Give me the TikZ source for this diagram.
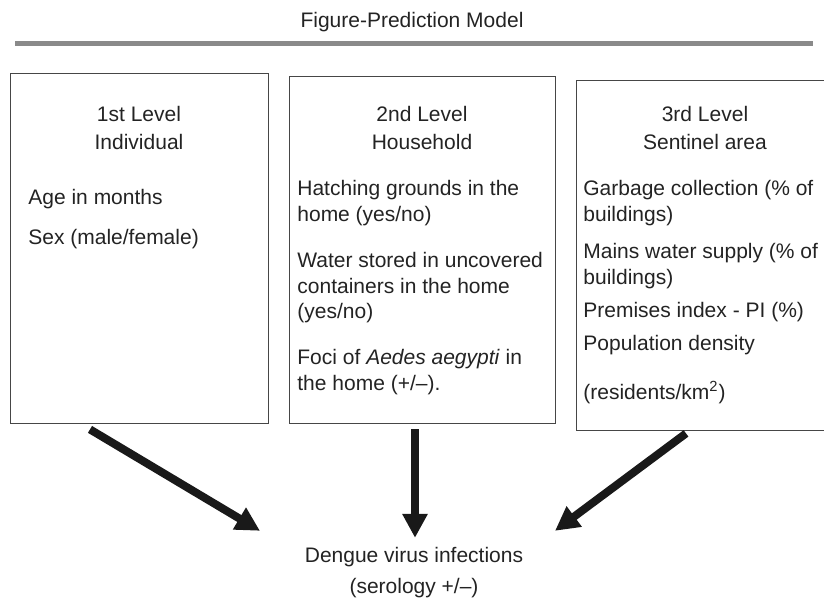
\documentclass[tikz,border=0pt]{standalone}
\usepackage{fontspec}
\setmainfont{Liberation Sans}
\usetikzlibrary{arrows.meta,calc,positioning}
\definecolor{rulegray}{RGB}{138,138,138}
\definecolor{boxgray}{RGB}{70,70,70}
\definecolor{inkgray}{RGB}{35,35,35}

\begin{document}
\begin{tikzpicture}[x=0.5pt,y=-0.5pt,
  every node/.style={inner sep=0pt,text=inkgray,font=\fontsize{10.5}{12.75}\selectfont},
  lvlbox/.style={draw=boxgray,line width=0.7pt,anchor=north west},
  item/.style={anchor=north west,align=left},
  head/.style={anchor=north,align=center,font=\fontsize{10.5}{14}\selectfont},
  bigarrow/.style={line width=4pt,draw=black!90,-{Triangle[length=12pt,width=12pt]}}]
  \useasboundingbox (0,0) rectangle (824,598);
  \clip (0,0) rectangle (824,598);
  % title and rule
  \node (title) at (412,22) {Figure-Prediction Model};
  \fill[rulegray] (15,41) rectangle (813,46);
  % the three level boxes
  \node[lvlbox,minimum width=129pt,minimum height=175pt] (box1) at (10,73) {};
  \node[lvlbox,minimum width=133pt,minimum height=173.5pt] (box2) at (289,76) {};
  \node[lvlbox,minimum width=132pt,minimum height=175pt] (box3) at (576,80) {};
  % headings
  \node[head] (head1) at (139,106) {1st Level\\Individual};
  \node[head] (head2) at (422,106) {2nd Level\\Household};
  \node[head] (head3) at (705,106) {3rd Level\\Sentinel area};
  % level 1
  \node[item] (age) at (28,189) {Age in months};
  \node[item] (sex) at (28,229) {Sex (male/female)};
  % level 2
  \node[item] (hatch) at (297,180) {Hatching grounds in the\\home (yes/no)};
  \node[item] (water) at (297,252) {Water stored in uncovered\\containers in the home\\(yes/no)};
  \node[item] (foci) at (297,349) {Foci of \textit{Aedes aegypti} in\\the home (+/--).};
  % level 3
  \node[item] (garb) at (583,180) {Garbage collection (\% of\\buildings)};
  \node[item] (mains) at (583,243) {Mains water supply (\% of\\buildings)};
  \node[item] (prem) at (583,302) {Premises index - PI (\%)};
  \node[item] (pop) at (583,335) {Population density};
  \node[item] (res) at (583,381) {(residents/km\textsuperscript{2})};
  % outcome
  \node (dengue) at (414,557) {Dengue virus infections};
  \node (sero) at (414,588) {(serology +/--)};
  % arrows
  \coordinate (s1) at ($(box1.south west)+(80,5)$);
  \coordinate (s2) at ($(box2.south west)+(126,5)$);
  \coordinate (s3) at ($(box3.south west)+(110,2)$);
  \coordinate (t1) at ($(dengue.north)+(-154,-16)$);
  \coordinate (t2) at ($(dengue.north)+(1,-9)$);
  \coordinate (t3) at ($(dengue.north)+(141,-16)$);
  \draw[bigarrow] (s1) -- (t1);
  \draw[bigarrow] (s2) -- (t2);
  \draw[bigarrow] (s3) -- (t3);
\end{tikzpicture}
\end{document}
